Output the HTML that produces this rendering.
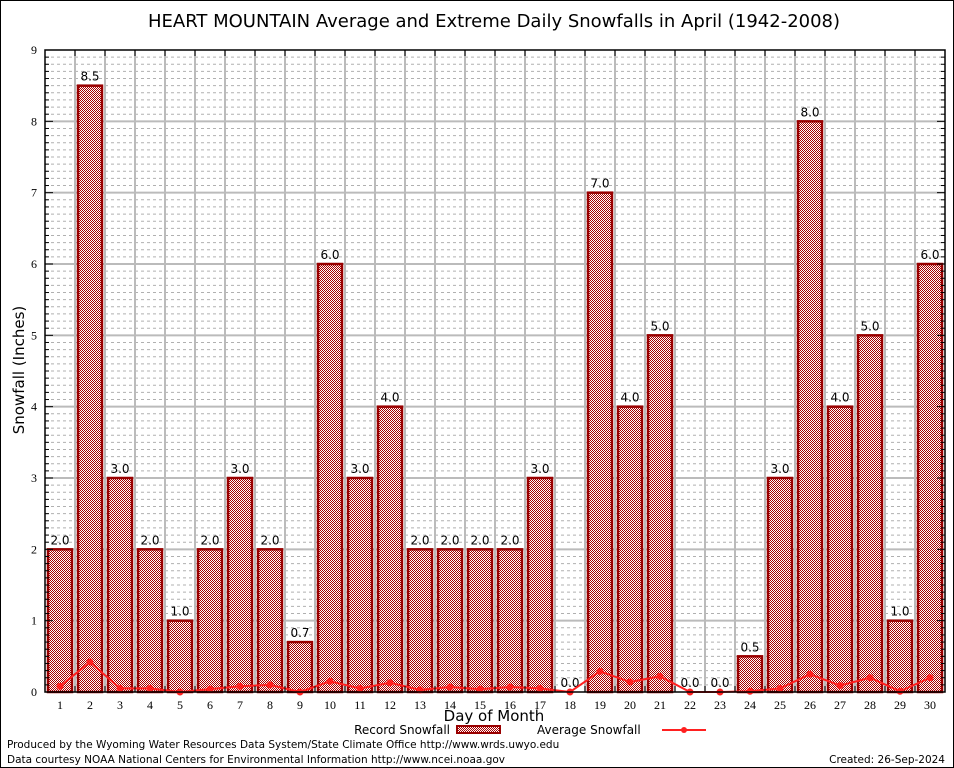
<!DOCTYPE html>
<html><head><meta charset="utf-8"><style>
body{margin:0;background:#fff}
svg{display:block;font-family:"DejaVu Sans","Liberation Sans",sans-serif}
</style></head><body>
<svg id="c" width="954" height="768" viewBox="0 0 954 768">
<defs><pattern id="chk" width="2" height="2" patternUnits="userSpaceOnUse">
<rect width="2" height="2" fill="#fff" shape-rendering="crispEdges"/><rect width="1" height="1" fill="#a80000" shape-rendering="crispEdges"/><rect x="1" y="1" width="1" height="1" fill="#a80000" shape-rendering="crispEdges"/></pattern></defs>
<rect x="0.5" y="0.5" width="953" height="767" fill="#fff" stroke="#000"/>
<text x="494" y="27" font-size="18" text-anchor="middle">HEART MOUNTAIN Average and Extreme Daily Snowfalls in April (1942-2008)</text>
<g id="grid"></g><g id="bars"></g><g id="avg"></g><g id="axes"></g>
<text x="24" y="370" font-size="15" text-anchor="middle" transform="rotate(-90 24 370)">Snowfall (Inches)</text>
<text x="494" y="721" font-size="15" text-anchor="middle">Day of Month</text>
<g>
<text x="450" y="734" font-size="12" text-anchor="end">Record Snowfall</text>
<rect x="457" y="726" width="43" height="7" fill="url(#chk)" stroke="#990000" stroke-width="2"/>
<text x="537" y="734" font-size="12">Average Snowfall</text>
<line x1="662" y1="730" x2="706" y2="730" stroke="#ff2020" stroke-width="2"/>
<circle cx="684" cy="730" r="3" fill="#ff2020"/>
</g>
<text x="7" y="748" font-size="10.5">Produced by the Wyoming Water Resources Data System/State Climate Office http://www.wrds.uwyo.edu</text>
<text x="7" y="763" font-size="10.5">Data courtesy NOAA National Centers for Environmental Information http://www.ncei.noaa.gov</text>
<text x="945" y="763" font-size="10.5" text-anchor="end">Created: 26-Sep-2024</text>
</svg>
<script>
const days=[1,2,3,4,5,6,7,8,9,10,11,12,13,14,15,16,17,18,19,20,21,22,23,24,25,26,27,28,29,30];
const records=[2,8.5,3,2,1,2,3,2,0.7,6,3,4,2,2,2,2,3,0,7,4,5,0,0,0.5,3,8,4,5,1,6];
const averages=[0.08,0.42,0.05,0.05,0,0.04,0.08,0.1,0,0.15,0.05,0.13,0.03,0.07,0.04,0.07,0.05,0,0.29,0.14,0.22,0,0,0.01,0.05,0.25,0.09,0.2,0.01,0.2];
const yTicks=[0,1,2,3,4,5,6,7,8,9];
const L=45,R=945,T=50,B=692,yMax=9;
const x=d=>L+(d-0.5)*(R-L)/days.length;
const y=v=>B-v*(B-T)/yMax;
const NS="http://www.w3.org/2000/svg";
function mk(tag,attrs,parent){const e=document.createElementNS(NS,tag);for(const k in attrs)e.setAttribute(k,attrs[k]);document.getElementById(parent).appendChild(e);return e;}
for(let i=1;i<yMax*10;i++){if(i%10===0)continue;
const g=mk('line',{x1:L,x2:R,y1:y(i/10),y2:y(i/10),stroke:'#b0b0b0','stroke-width':1,'stroke-dasharray':'3,3'},'grid');

}
yTicks.forEach(t=>{if(t===0||t===yMax)return;
const g=mk('line',{x1:L,x2:R,y1:y(t),y2:y(t),stroke:'#bbb','stroke-width':2},'grid');

});
for(let i=1;i<days.length;i++){const xx=L+i*(R-L)/days.length;
const g=mk('line',{x1:xx,x2:xx,y1:T,y2:B,stroke:'#bbb','stroke-width':2},'grid');

}
days.forEach((d,i)=>{const v=records[i];
if(v>0){const r=mk('rect',{x:x(d)-12,y:y(v),width:24,height:B-y(v),fill:'url(#chk)',stroke:'#990000','stroke-width':2.5},'bars');

}
const t=mk('text',{x:x(d),y:y(v)-5,'font-size':12,'text-anchor':'middle'},'bars');
t.textContent=v.toFixed(1);

});
const pl=mk('polyline',{points:days.map((d,i)=>x(d)+','+y(averages[i])).join(' '),fill:'none',stroke:'#ff2020','stroke-width':2},'avg');


days.forEach((d,i)=>{const c=mk('circle',{cx:x(d),cy:y(averages[i]),r:3.5,fill:'#ff2020'},'avg');

});
const fr=mk('rect',{x:L,y:T,width:R-L,height:B-T,fill:'none',stroke:'#000','stroke-width':1.5},'axes');


for(let i=0;i<=yMax*10;i++){const w=i%10===0?8:4;
[[L,L+w],[R-w,R]].forEach(p=>{const l=mk('line',{x1:p[0],x2:p[1],y1:y(i/10),y2:y(i/10),stroke:'#000'},'axes');

});}
yTicks.forEach(t=>{const e=mk('text',{x:L-8,y:y(t)+4,'font-size':12,'text-anchor':'end','font-family':'Liberation Serif, serif'},'axes');
e.textContent=t;

});
for(let i=1;i<days.length;i++){const xx=L+i*(R-L)/days.length;
[[B,B-6],[T,T+6]].forEach(p=>{const l=mk('line',{x1:xx,x2:xx,y1:p[0],y2:p[1],stroke:'#000'},'axes');

});}
days.forEach(d=>{const e=mk('text',{x:x(d),y:B+17,'font-size':12,'text-anchor':'middle','font-family':'Liberation Serif, serif'},'axes');
e.textContent=d;

});
</script>
</body></html>
